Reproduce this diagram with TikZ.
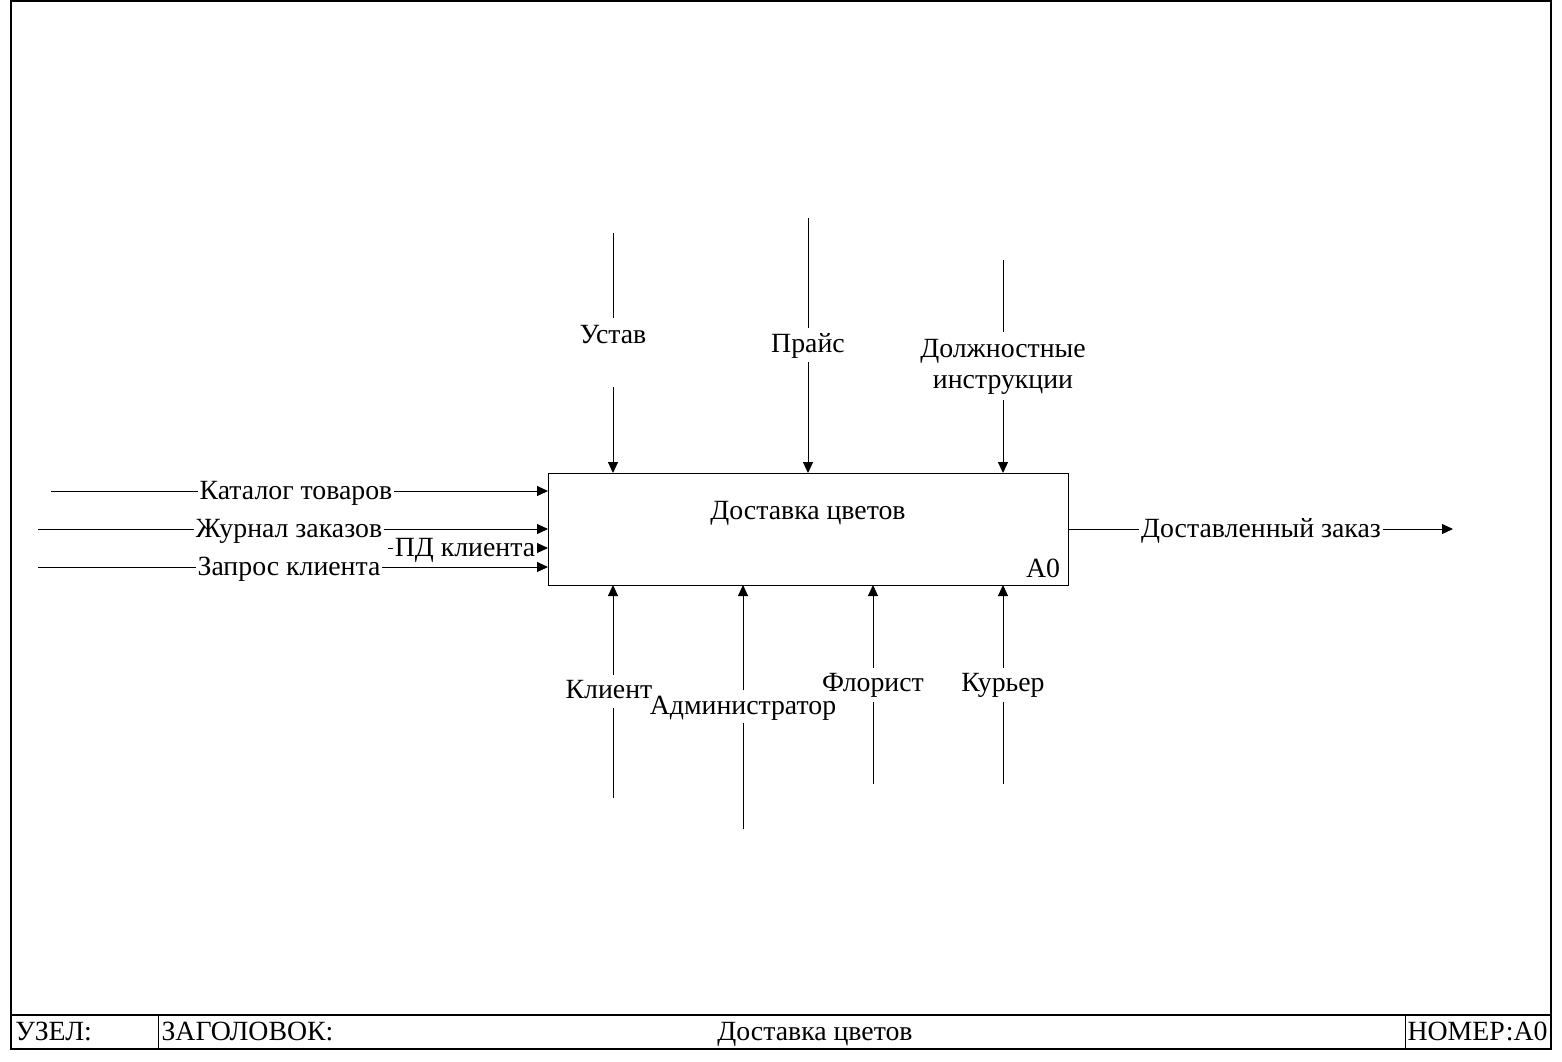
\documentclass[tikz,border=0pt]{standalone}
\usepackage{fontspec}
\setmainfont{Liberation Serif}
\usetikzlibrary{arrows.meta}
\begin{document}
\begin{tikzpicture}[x=0.5pt,y=-0.5pt,
  font=\fontsize{13.9}{16}\selectfont,
  line width=0.5pt,
  flow/.style={-{Triangle[length=5.5pt,width=5pt]}},
  hlbl/.style={anchor=base,inner xsep=0.6pt,inner ysep=0pt},
  vlbl/.style={inner sep=0pt,align=center},
  foot/.style={anchor=base west,inner sep=0pt}]
\useasboundingbox (0,0) rectangle (1562,1061);

% sheet frame and title strip
\draw[line width=0.8pt] (11,1) rectangle (1551,1049);
\draw[line width=0.8pt] (11,1015) -- (1551,1015);
\draw (158,1015) -- (158,1049);
\draw (1405,1015) -- (1405,1049);
\node[foot] (node) at (15,1040) {УЗЕЛ:};
\node[foot] (head) at (161,1040) {ЗАГОЛОВОК:};
\node[anchor=base,inner sep=0pt] (title) at (815,1040) {Доставка цветов};
\node[foot] (num) at (1407,1040) {НОМЕР:A0};

% activity box
\node[draw,minimum width=260pt,minimum height=56pt,inner sep=0pt] (box) at (808,529) {};
\node (boxname) at (808,513) {Доставка цветов};
\node (boxnum) at (1043,568) {A0};

% attachment points on the box
\coordinate (c1) at (613,473);
\coordinate (c2) at (808,473);
\coordinate (c3) at (1003,473);
\coordinate (i1) at (548,491);
\coordinate (i2) at (548,529);
\coordinate (i3) at (548,548);
\coordinate (i4) at (548,567);
\coordinate (o1) at (1068,529);
\coordinate (m1) at (613,585);
\coordinate (m2) at (743,585);
\coordinate (m3) at (873,585);
\coordinate (m4) at (1003,585);

% free ends
\coordinate (c1e) at (613,233);
\coordinate (c2e) at (808,218);
\coordinate (c3e) at (1003,260);
\coordinate (i1e) at (51,491);
\coordinate (i2e) at (38,529);
\coordinate (i3e) at (388,548);
\coordinate (i4e) at (38,567);
\coordinate (o1e) at (1453,529);
\coordinate (m1e) at (613,798);
\coordinate (m2e) at (743,829);
\coordinate (m3e) at (873,784);
\coordinate (m4e) at (1003,784);

% gaps left open around the vertical labels
\coordinate (c1a) at (613,318);  \coordinate (c1b) at (613,387);
\coordinate (c2a) at (808,328);  \coordinate (c2b) at (808,362);
\coordinate (c3a) at (1003,332); \coordinate (c3b) at (1003,400);
\coordinate (m1a) at (613,708);  \coordinate (m1b) at (613,675);
\coordinate (m2a) at (743,723);  \coordinate (m2b) at (743,690);
\coordinate (m3a) at (873,702);  \coordinate (m3b) at (873,668);
\coordinate (m4a) at (1003,702); \coordinate (m4b) at (1003,668);

% controls
\node[vlbl] (ustav) at (613,335) {Устав};
\node[vlbl] (price) at (808,346) {Прайс};
\node[vlbl] (instr) at (1003,367) {Должностные\\[-0.5pt]инструкции};
\draw (c1e) -- (c1a);  \draw[flow] (c1b) -- (c1);
\draw (c2e) -- (c2a);  \draw[flow] (c2b) -- (c2);
\draw (c3e) -- (c3a);  \draw[flow] (c3b) -- (c3);

% inputs
\node[hlbl] (catalog) at (296,499) {Каталог товаров};
\node[hlbl] (journal) at (289,537) {Журнал заказов};
\node[hlbl] (pd) at (465,556) {ПД клиента};
\node[hlbl] (request) at (289,575) {Запрос клиента};
\draw (i1e) -- (catalog.west |- i1e);  \draw[flow] (catalog.east |- i1e) -- (i1);
\draw (i2e) -- (journal.west |- i2e);  \draw[flow] (journal.east |- i2e) -- (i2);
\draw (i3e) -- (pd.west |- i3e);       \draw[flow] (pd.east |- i3e) -- (i3);
\draw (i4e) -- (request.west |- i4e);  \draw[flow] (request.east |- i4e) -- (i4);

% output
\node[hlbl] (delivered) at (1261,537) {Доставленный заказ};
\draw (o1) -- (delivered.west |- o1);  \draw[flow] (delivered.east |- o1) -- (o1e);

% mechanisms
\node[vlbl] (client) at (609,690) {Клиент};
\node[vlbl] (admin) at (743,708) {Администратор};
\node[vlbl] (florist) at (873,685) {Флорист};
\node[vlbl] (courier) at (1003,685) {Курьер};
\draw (m1e) -- (m1a);  \draw[flow] (m1b) -- (m1);
\draw (m2e) -- (m2a);  \draw[flow] (m2b) -- (m2);
\draw (m3e) -- (m3a);  \draw[flow] (m3b) -- (m3);
\draw (m4e) -- (m4a);  \draw[flow] (m4b) -- (m4);
\end{tikzpicture}
\end{document}
